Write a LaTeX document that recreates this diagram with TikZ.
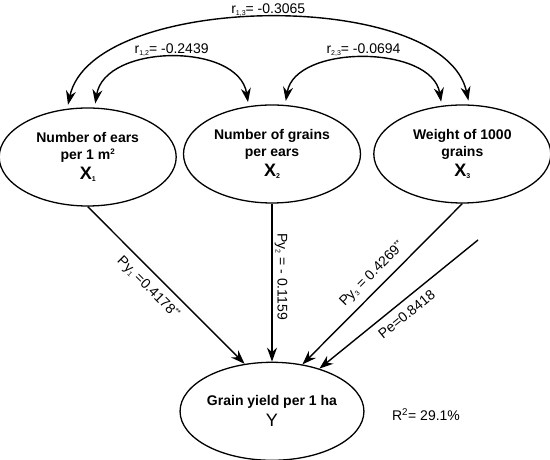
\documentclass[tikz,border=0pt]{standalone}
\usepackage{fontspec}
\setmainfont{Liberation Sans}
\usetikzlibrary{positioning, arrows.meta, shapes.geometric}
\newcommand{\subs}[1]{\raisebox{-2pt}{\fontsize{7}{8}\selectfont #1}}
\newcommand{\sups}[1]{\raisebox{5pt}{\fontsize{8}{9}\selectfont #1}}

\begin{document}
\begin{tikzpicture}[x=1pt, y=1pt, font=\fontsize{14}{17}\selectfont,
    var/.style={draw, ellipse, line width=1.3pt, minimum width=177pt, minimum height=98pt,
      inner sep=0pt, align=center, font=\fontsize{14}{17}\selectfont\bfseries},
    effect/.style={line width=1.4pt, -{Stealth[length=14pt, width=10pt]}},
    corr/.style={effect, {Stealth[length=14pt, width=10pt]}-{Stealth[length=14pt, width=10pt]},
      shorten <=4pt, shorten >=4pt},
    lbl/.style={inner sep=2pt}]
  \useasboundingbox (0,0) rectangle (550,460);
  % variables
  \node[var] (x2) at (272,306) {Number of grains\\per ears\\[3pt]{\fontsize{18}{18}\selectfont X\subs{2}}};
  \node[var, left=6pt of x2, yshift=-3pt] (x1) {Number of ears\\per 1 m\sups{2}\\[3pt]{\fontsize{18}{18}\selectfont X\subs{1}}};
  \node[var, right=12pt of x2] (x3) {Weight of 1000\\grains\\[3pt]{\fontsize{18}{18}\selectfont X\subs{3}}};
  \node[var, below=158pt of x2, font=\fontsize{14}{17}\selectfont] (y) {\textbf{Grain yield per 1 ha}\\[4pt]{\fontsize{18}{18}\selectfont Y}};
  \node[right=24pt of y, yshift=-3pt] (r2) {R\textsuperscript{2}= 29.1\%};
  \coordinate (e) at (478,220);
  % correlations
  \draw[corr] (x1.82) .. controls +(10,64) and +(-10,64) .. node[lbl, above] {r\subs{1,2}= -0.2439} (x2.116);
  \draw[corr] (x2.75) .. controls +(10,61) and +(-10,61) .. node[lbl, above] {r\subs{2,3}= -0.0694} (x3.113);
  \draw[corr] (x1.113) .. controls +(25,117) and +(-25,117) .. node[lbl, above] {r\subs{1,3}= -0.3065} (x3.82);
  % path coefficients
  \draw[effect] (x1.south) -- node[lbl, sloped, below=5pt, pos=.45] {Py\subs{1} =0.4178\sups{**}} (y.120);
  \draw[effect] (x2.south) -- node[lbl, rotate=-90, above=6pt] {Py\subs{2} = - 0.1159} (y.north);
  \draw[effect] (x3.south) -- node[lbl, sloped, above=5pt] {Py\subs{3} = 0.4269\sups{**}} (y.57);
  \draw[effect] (e) -- node[lbl, sloped, below=5pt] {Pe=0.8418} (y.42);
\end{tikzpicture}
\end{document}
